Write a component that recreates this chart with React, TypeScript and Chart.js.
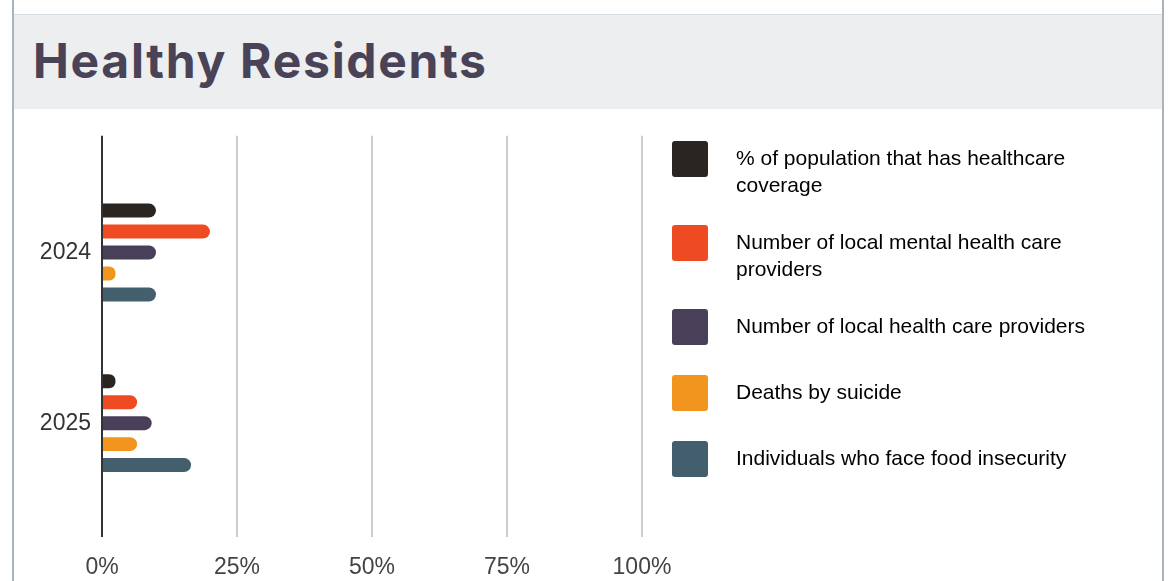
import React, { useEffect, useRef } from 'react';
import { Chart, registerables } from 'chart.js';

Chart.register(...registerables);

const TITLE = 'Healthy Residents';
const YEARS = ['2024', '2025'];
const X_TICKS = [0, 25, 50, 75, 100];
const SERIES_LABELS: (string | string[])[] = [
  ['% of population that has healthcare', 'coverage'],
  ['Number of local mental health care', 'providers'],
  'Number of local health care providers',
  'Deaths by suicide',
  'Individuals who face food insecurity',
];
const COVERAGE = [10, 2.5];
const MENTAL_PROVIDERS = [20, 6.5];
const HEALTH_PROVIDERS = [10, 9.2];
const SUICIDE_DEATHS = [2.5, 6.5];
const FOOD_INSECURITY = [10, 16.5];
const SERIES_VALUES = [COVERAGE, MENTAL_PROVIDERS, HEALTH_PROVIDERS, SUICIDE_DEATHS, FOOD_INSECURITY];
const SERIES_COLORS = ['#2a2520', '#ef4b22', '#483f59', '#f2951f', '#435f6d'];

const FONT = "'Liberation Sans', Arial, sans-serif";
const CANVAS_W = 1148;
const CANVAS_H = 470;

export default function App() {
  const ref = useRef<HTMLCanvasElement | null>(null);

  useEffect(() => {
    if (!ref.current) return;
    Chart.defaults.font.family = FONT;
    const chart = new Chart(ref.current, {
      type: 'bar',
      data: {
        datasets: SERIES_VALUES.map((vals, k) => ({
          label: Array.isArray(SERIES_LABELS[k]) ? (SERIES_LABELS[k] as string[]).join(' ') : (SERIES_LABELS[k] as string),
          data: YEARS.map((_, i) => ({ x: vals[i], y: i })),
          backgroundColor: SERIES_COLORS[k],
          borderWidth: 0,
          borderRadius: 7,
          borderSkipped: 'start',
          categoryPercentage: 0.614,
          barPercentage: 0.667,
        })),
      },
      options: {
        indexAxis: 'y',
        responsive: false,
        animation: false,
        layout: { padding: { left: 0, top: 0, bottom: 0, right: 67 } },
        scales: {
          x: {
            type: 'linear',
            position: 'bottom',
            min: 0,
            max: 100,
            afterBuildTicks: (s: any) => {
              s.ticks = X_TICKS.map((v) => ({ value: v }));
            },
            ticks: {
              callback: (v: any) => v + '%',
              font: { size: 23, family: FONT },
              color: '#444',
              padding: 17,
            },
            grid: {
              drawTicks: false,
              lineWidth: 2,
              color: (c: any) => (c.tick && c.tick.value === 0 ? '#333' : '#cccccc'),
            },
            border: { display: false },
            afterFit: (s: any) => {
              s.height = 44;
            },
          },
          xTop: {
            type: 'linear',
            axis: 'x',
            position: 'top',
            display: true,
            grid: { display: false, drawTicks: false },
            border: { display: false },
            ticks: { display: false },
            afterFit: (s: any) => {
              s.height = 24;
            },
          },
          y: {
            type: 'linear',
            reverse: true,
            offset: false,
            grace: 0,
            bounds: 'data',
            min: -0.684,
            max: 1.667,
            afterBuildTicks: (s: any) => {
              s.ticks = YEARS.map((_, i) => ({ value: i }));
            },
            ticks: {
              callback: (v: any) => YEARS[v] ?? '',
              font: { size: 23, family: FONT },
              color: '#333',
              padding: 11,
            },
            grid: { display: false, drawTicks: false, offset: false },
            border: { display: false },
            afterFit: (s: any) => {
              s.width = 88;
            },
          },
        },
        plugins: {
          tooltip: { enabled: false },
          legend: {
            position: 'right',
            align: 'start',
            maxWidth: 700,
            labels: {
              boxWidth: 36,
              boxHeight: 36,
              padding: 30,
              color: '#383838',
              font: { size: 21, family: FONT, lineHeight: 27 / 21 },
              generateLabels: (ch: any) =>
                ch.data.datasets.map((ds: any, i: number) => {
                  const lbl = SERIES_LABELS[i];
                  return {
                    text: Array.isArray(lbl) ? lbl.map((l) => '   ' + l) : '   ' + lbl,
                    fillStyle: ds.backgroundColor,
                    strokeStyle: ds.backgroundColor,
                    lineWidth: 0,
                    borderRadius: 3,
                    datasetIndex: i,
                    hidden: false,
                  };
                }),
            },
          },
        },
      } as any,
    });
    return () => chart.destroy();
  }, []);

  return (
    <div style={{ position: 'absolute', left: 0, top: 0, width: 1173, height: 581, background: '#fff', overflow: 'hidden' }}>
      <div style={{ position: 'absolute', left: 12, top: 0, width: 2, height: 581, background: '#a9b4bc' }} />
      <div style={{ position: 'absolute', left: 1162, top: 0, width: 2, height: 581, background: '#a9b4bc' }} />
      <div
        style={{
          position: 'absolute',
          left: 14,
          top: 14,
          width: 1148,
          height: 95,
          background: '#eceef0',
          borderTop: '1px solid #d6dde3',
          boxSizing: 'border-box',
        }}
      />
      <div
        style={{
          position: 'absolute',
          left: 33,
          top: 37,
          fontFamily: "Inter, 'Open Sans', sans-serif",
          fontWeight: 700,
          fontSize: 48,
          lineHeight: '48px',
          letterSpacing: '1.7px',
          color: '#4a4257',
          whiteSpace: 'nowrap',
        }}
      >
        {TITLE}
      </div>
      <canvas
        ref={ref}
        width={CANVAS_W}
        height={CANVAS_H}
        style={{ position: 'absolute', left: 14, top: 111, width: CANVAS_W, height: CANVAS_H }}
      />
    </div>
  );
}
